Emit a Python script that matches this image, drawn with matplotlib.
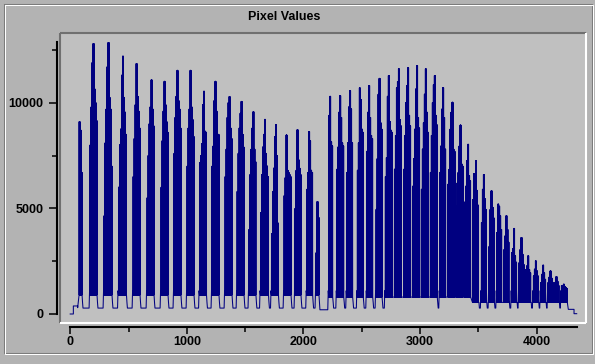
import matplotlib
matplotlib.use('Agg')
import matplotlib.pyplot as plt
from matplotlib.lines import Line2D

plt.rcParams['font.family'] = ['Liberation Sans', 'DejaVu Sans']
plt.rcParams['font.weight'] = 'bold'
plt.rcParams['path.simplify'] = False  # keep every zig-zag of the dense trace

# ---- data ----
# signal start / end (sample index, pixel value)
head_x = [0, 27, 27, 64, 64]
head_y = [0, 0, 380, 380, 300]
tail_x = [4272, 4321, 4321, 4344]
tail_y = [220, 220, 15, 15]

# sample index of the first column of each pulse
pulse_start = [76, 170, 290, 414, 539, 659, 779, 890, 1002, 1109,
               1216, 1328, 1431, 1533, 1632, 1726, 1834, 1928, 2028, 2108,
               2217, 2286, 2371, 2462, 2543, 2623, 2702, 2780, 2860, 2937,
               3011, 3088, 3169, 3240, 3309, 3383, 3450, 3526, 3592, 3658,
               3720, 3786, 3849, 3907, 3972, 4035, 4098, 4149, 4212]

# upper envelope of each pulse, one value per screen column
pulse_cols = [
    [9100, 8700, 6700],
    [8000, 9800, 11900, 12800, 10650, 10000, 9150],
    [4650, 8100, 9700, 11700, 12850, 10250, 9700, 7000],
    [6000, 8000, 8750, 11300, 12200, 10250, 9550, 8500],
    [6500, 8300, 9900, 11850, 10300, 9600, 8800],
    [5500, 7500, 9000, 9800, 11080, 9700, 8900],
    [6000, 8200, 9600, 11010, 9900, 9100, 8600],
    [7600, 9300, 10300, 11530, 10100, 9700, 8800],
    [7000, 8800, 9700, 11530, 9800, 9200, 8400],
    [7150, 7500, 8050, 9900, 10540, 8650, 8600],
    [7000, 7950, 10100, 11010, 9600, 8450, 8500],
    [6500, 7800, 9300, 10000, 10290, 8800, 8300],
    [5800, 7600, 8800, 9500, 10060, 8500, 7900],
    [4000, 6600, 7800, 8800, 9570, 7800, 7200],
    [4800, 6600, 7900, 8500, 9210, 7600, 7000, 6500],
    [3800, 5800, 6900, 8400, 8970, 7500, 4300],
    [5600, 6450, 8470, 6800, 6700, 6600, 6500],
    [5000, 6800, 8720, 7300, 6900, 6600],
    [5900, 6700, 8630, 8200, 6800, 6700],
    [2900, 5320, 4570],
    [9400, 10300, 8150, 7950],
    [6850, 7900, 9550, 10330, 9300, 8100, 7950],
    [6700, 8100, 9800, 10570, 9700, 8100],
    [6800, 8100, 10700, 10150, 8750, 8600],
    [7700, 9550, 10810, 9300, 8450, 8300],
    [4950, 7350, 10400, 11150, 9050, 8750],
    [6500, 7400, 10300, 11280, 9100, 8700, 8600],
    [6850, 8450, 10700, 11000, 11600, 9200, 8900],
    [6850, 8450, 10000, 10800, 11650, 9400, 8900],
    [6050, 7350, 8750, 10650, 11760, 9300, 8800],
    [5900, 7800, 9050, 10400, 11600, 9550, 8600],
    [6700, 8450, 10000, 10850, 11280, 9400, 8950],
    [6700, 7950, 9700, 10710, 9300, 7800],
    [6150, 6850, 8750, 9550, 10020, 7800, 7700],
    [5100, 6200, 6700, 7950, 8940, 7100, 7000],
    [5300, 6050, 7250, 8030, 6550, 6300],
    [5400, 6650, 6650, 7250, 5850, 5150],
    [4330, 5900, 6600, 5450, 4950],
    [3200, 4950, 5830, 5050, 4550],
    [3850, 5200, 5100, 4650, 4000],
    [3050, 3700, 4650, 4000, 3400],
    [2900, 3100, 4050, 2750, 2450],
    [2430, 3050, 3620, 2830, 2350],
    [2100, 2280, 2750, 2100, 1950],
    [1800, 2120, 2510, 2040, 1800],
    [1480, 1880, 2310, 1950, 1640],
    [1500, 1750, 2040, 1700, 1500],
    [1300, 1500, 1770, 1550, 1350],
    [1350, 1250, 1410, 1300, 1250, 1200],
]

# lower edge of the filled part of each pulse
pulse_floor = [900] * 20 + [800] * 16 + [550] * 13

base_level = 280      # flat level between pulses
dip_pulse = 19        # the lower flat stretch after this pulse
dip_level = 200
edge_hi = 1100        # small bumps at the foot of each pulse
edge_lo = 550
col_w = 8.58          # samples per screen column

x_ticks = [0, 1000, 2000, 3000, 4000]
x_minor = [500, 1500, 2500, 3500]
y_ticks = [0, 5000, 10000]
y_minor = [2500, 7500, 12500]

# ---- build the trace ----
xs = list(head_x)
ys = list(head_y)
for k, (s, cols) in enumerate(zip(pulse_start, pulse_cols)):
    fl = pulse_floor[k]
    for j, h in enumerate(cols):
        x0 = s + j * col_w
        for q in range(4):
            xs += [x0 + col_w * q / 4, x0 + col_w * (q + 0.5) / 4]
            ys += [fl, h]
    end = s + len(cols) * col_w
    nxt = pulse_start[k + 1] if k + 1 < len(pulse_start) else tail_x[0]
    base = dip_level if k == dip_pulse else base_level
    if nxt - end > 20:
        xs += [end, end + 4, end + 8, nxt - 8, nxt - 4]
        ys += [fl, edge_lo, base, base, edge_hi]
    else:
        xs += [end]
        ys += [fl]
xs += tail_x
ys += tail_y

# ---- figure ----
W, H = 595, 364
fig = plt.figure(figsize=(W / 100, H / 100), dpi=100, facecolor='#b3b3b3')


def fx(px):
    return px / W


def fy(py):
    return 1 - py / H


# etched frame round the whole widget
for off, col in [(0, '#7a7a7a'), (1, 'white')]:
    x0, y0, x1, y1 = 3.5 + off, 3.5 + off, 591.5 + off, 352.5 + off
    fig.add_artist(Line2D([fx(x0), fx(x1), fx(x1), fx(x0), fx(x0)],
                          [fy(y0), fy(y0), fy(y1), fy(y1), fy(y0)],
                          color=col, lw=0.75))

fig.text(fx(284), fy(17), 'Pixel Values', ha='center', va='center',
         fontsize=9, fontweight='bold')

ax = fig.add_axes([fx(60), fy(323), (586 - 60) / W, (323 - 33) / H])
ax.set_facecolor('#c0c0c0')
ax.set_xlim(-87.5, 4423.7)
ax.set_ylim(-426, 13298)

ax.plot(xs, ys, color='#000080', lw=0.75, antialiased=True)

# sunken border of the plot area
bd = dict(transform=ax.transAxes, clip_on=False, lw=1.5, solid_capstyle='butt')
ax.plot([0, 1], [1, 1], color='#707070', **bd)
ax.plot([0, 0], [0, 1], color='#707070', **bd)
ax.plot([1, 1], [0, 1], color='white', **bd)
ax.plot([0, 1], [0, 0], color='white', **bd)

for side in ['top', 'right']:
    ax.spines[side].set_visible(False)
ax.spines['left'].set_position(('outward', 1.9))
ax.spines['bottom'].set_position(('outward', 2.7))
ax.spines['left'].set_bounds(0, max(max(c) for c in pulse_cols))
ax.spines['bottom'].set_bounds(0, tail_x[-1])
ax.spines['left'].set_linewidth(1.5)
ax.spines['bottom'].set_linewidth(1.5)

ax.set_xticks(x_ticks)
ax.set_xticks(x_minor, minor=True)
ax.set_yticks(y_ticks)
ax.set_yticks(y_minor, minor=True)
ax.tick_params(which='both', direction='out', width=1.1, labelsize=9)
ax.tick_params(axis='y', which='major', length=5.8, pad=4.3)
ax.tick_params(axis='y', which='minor', length=3.6)
ax.tick_params(axis='x', which='major', length=5.0, pad=2.0)
ax.tick_params(axis='x', which='minor', length=3.6)

fig.savefig('out.png', dpi=100, facecolor=fig.get_facecolor())
